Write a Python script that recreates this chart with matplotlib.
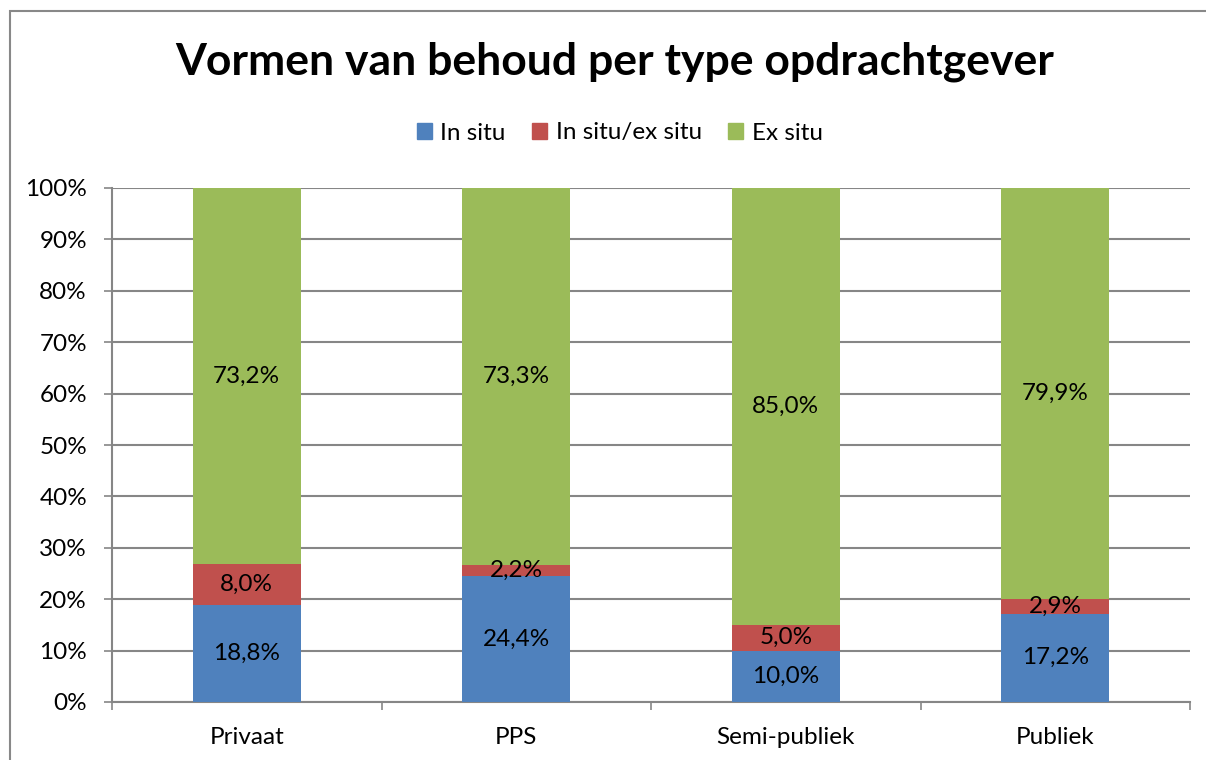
"""
Stacked 100% bar chart: vormen van behoud per type opdrachtgever.
"""
import matplotlib.pyplot as plt
import matplotlib.patches as mpatches
import numpy as np

categories = ['Privaat', 'PPS', 'Semi-publiek', 'Publiek']
series_names = ['In situ', 'In situ/ex situ', 'Ex situ']
in_situ = [18.8, 24.4, 10.0, 17.2]
in_ex_situ = [8.0, 2.2, 5.0, 2.9]
ex_situ = [73.2, 73.3, 85.0, 79.9]
colors = ['#4F81BD', '#C0504D', '#9BBB59']

plt.rcParams['font.family'] = ['Lato', 'DejaVu Sans']


def plot(save_path='out.png'):
    fig = plt.figure(figsize=(12.06, 7.6), dpi=100)
    ax = fig.add_axes([112 / 1206, 58 / 760, (1190 - 112) / 1206, (702 - 188) / 760])

    grid_c = '#868686'
    fs = 17.5
    x = np.arange(len(categories))
    data = [in_situ, in_ex_situ, ex_situ]
    totals = np.sum(data, axis=0)
    bottom = np.zeros(len(categories))
    for vals, name, c in zip(data, series_names, colors):
        pct = np.array(vals) / totals * 100
        ax.bar(x, pct, 0.4, bottom=bottom, color=c, label=name, zorder=3)
        for xi, b, p, v in zip(x, bottom, pct, vals):
            ax.text(xi, b + p / 2, f'{v:.1f}%'.replace('.', ','),
                    ha='center', va='center', fontsize=fs, zorder=4)
        bottom += pct

    ax.set_xlim(-0.5, len(categories) - 0.5)
    ax.set_ylim(0, 100)
    ax.set_yticks(np.arange(0, 101, 10))
    ax.set_yticklabels([f'{v}%' for v in range(0, 101, 10)], fontsize=fs)
    ax.yaxis.grid(True, color=grid_c, lw=1.5, zorder=0)
    ax.tick_params(axis='y', length=6, width=1.2, color=grid_c, pad=12)

    ax.set_xticks(x)
    ax.set_xticklabels(categories, fontsize=fs)
    ax.set_xticks(np.arange(-0.5, len(categories)), minor=True)
    ax.tick_params(axis='x', which='major', length=0, pad=18)
    ax.tick_params(axis='x', which='minor', length=6, width=1.2, color=grid_c)

    for s in ['top', 'right']:
        ax.spines[s].set_visible(False)
    for s in ['left', 'bottom']:
        ax.spines[s].set_color(grid_c)
        ax.spines[s].set_linewidth(1.5)

    handles = [mpatches.Patch(color=c, label=n) for c, n in zip(colors, series_names)]
    fig.legend(handles=handles, loc='center', bbox_to_anchor=(0.514, 1 - 133 / 760),
               ncol=3, frameon=False, fontsize=fs, handlelength=0.6, handleheight=0.6,
               handletextpad=0.35, columnspacing=1.1)

    fig.text(0.51, 1 - 62 / 760, 'Vormen van behoud per type opdrachtgever',
             ha='center', va='center', fontsize=32, fontweight='bold')

    border = mpatches.Rectangle((10 / 1206, -0.05), 1.1, 1 - 11 / 760 + 0.05,
                                transform=fig.transFigure, fill=False,
                                edgecolor='#888888', lw=1.5)
    fig.add_artist(border)

    fig.savefig(save_path, dpi=100)
    return fig


if __name__ == "__main__":
    plot()
